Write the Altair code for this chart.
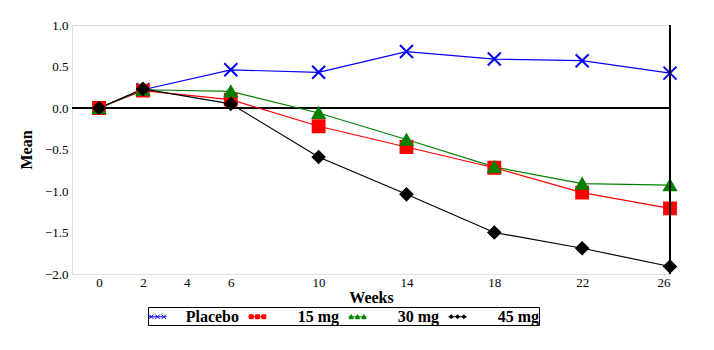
import altair as alt
import pandas as pd

weeks = [0, 2, 6, 10, 14, 18, 22, 26]
placebo = [0.00, 0.22, 0.46, 0.43, 0.68, 0.59, 0.57, 0.42]
mg15 = [0.00, 0.21, 0.10, -0.22, -0.47, -0.72, -1.02, -1.21]
mg30 = [0.00, 0.22, 0.20, -0.06, -0.38, -0.71, -0.91, -0.93]
mg45 = [0.00, 0.23, 0.05, -0.59, -1.04, -1.50, -1.69, -1.91]
series = ["Placebo", "15 mg", "30 mg", "45 mg"]
colors = ["#0000ff", "#ff0000", "#008000", "#000000"]
x_ticks = [0, 2, 4, 6, 10, 14, 18, 22, 26]
y_ticks = [-2.0, -1.5, -1.0, -0.5, 0.0, 0.5, 1.0]

rows = []
for k, (name, vals) in enumerate(zip(series, [placebo, mg15, mg30, mg45])):
    for w, v in zip(weeks, vals):
        rows.append({"week": w, "value": v, "series": name, "idx": k})
df = pd.DataFrame(rows)

serif = "Liberation Serif"
xpath = "M-1.1,-1.1L1.1,1.1M-1.1,1.1L1.1,-1.1"
color_scale = alt.Scale(domain=series, range=colors)
shape_scale = alt.Scale(domain=series, range=[xpath, "square", "triangle-up", "diamond"])

# legend symbols: a short line with three small markers
leg_paths = [
    "M-1,0L1,0M-0.95,-0.25L-0.45,0.25M-0.95,0.25L-0.45,-0.25M-0.25,-0.25L0.25,0.25M-0.25,0.25L0.25,-0.25M0.45,-0.25L0.95,0.25M0.45,0.25L0.95,-0.25",
    "M-1,0L1,0M-0.92,-0.22H-0.48V0.22H-0.92ZM-0.22,-0.22H0.22V0.22H-0.22ZM0.48,-0.22H0.92V0.22H0.48Z",
    "M-1,0L1,0M-0.95,0.22L-0.7,-0.24L-0.45,0.22ZM-0.25,0.22L0,-0.24L0.25,0.22ZM0.45,0.22L0.7,-0.24L0.95,0.22Z",
    "M-1,0L1,0M-0.92,0L-0.7,-0.22L-0.48,0L-0.7,0.22ZM-0.22,0L0,-0.22L0.22,0L0,0.22ZM0.48,0L0.7,-0.22L0.92,0L0.7,0.22Z",
]
leg_shape_scale = alt.Scale(domain=series, range=leg_paths)

legend = alt.Legend(
    title=None,
    orient="none",
    legendX=76,
    legendY=282,
    direction="horizontal",
    columns=4,
    gridAlign="all",
    columnPadding=7,
    labelOffset=72,
    labelAlign="right",
    labelFont=serif,
    labelFontSize=16,
    labelFontWeight="bold",
    labelColor="black",
    labelLimit=200,
    symbolSize=324,
    symbolStrokeWidth=1.0,
    symbolOpacity=1,
    strokeColor="black",
    fillColor="white",
    padding=0,
)

x_enc = alt.X(
    "week:Q",
    scale=alt.Scale(domain=[-1.23, 26], nice=False, zero=False),
    axis=alt.Axis(
        values=x_ticks, title="Weeks", grid=False, ticks=False, domain=False,
        labelFont=serif, labelFontSize=13, labelColor="black", labelPadding=2,
        titleFont=serif, titleFontSize=16, titleFontWeight="bold", titleColor="black",
        titlePadding=0,
    ),
)
y_enc = alt.Y(
    "value:Q",
    scale=alt.Scale(domain=[-2, 1], nice=False, zero=False),
    axis=alt.Axis(
        values=y_ticks, format=".1f", title="Mean", grid=False, ticks=False, domain=False,
        labelFont=serif, labelFontSize=13, labelColor="black", labelPadding=4,
        titleFont=serif, titleFontSize=16, titleFontWeight="bold", titleColor="black",
        titlePadding=10,
    ),
)

base = alt.Chart(df)

zero_line = base.mark_rule(color="black", strokeWidth=1).encode(y=alt.datum(0))
right_line = base.mark_rule(color="black", strokeWidth=2).encode(x=alt.datum(26))

lines = base.mark_line(strokeWidth=1.2).encode(
    x=x_enc,
    y=y_enc,
    color=alt.Color("series:N", scale=color_scale, legend=None),
    detail="series:N",
    order="week:Q",
)

points = base.mark_point(filled=True, size=140, strokeWidth=2, opacity=1).encode(
    x=x_enc,
    y=y_enc,
    color=alt.Color("series:N", scale=color_scale, legend=None),
    stroke=alt.Stroke("series:N", scale=color_scale, legend=None),
    shape=alt.Shape("series:N", scale=shape_scale, legend=None),
    order="idx:Q",
)

legend_layer = base.transform_filter("datum.week < -100").mark_point(
    filled=True, strokeWidth=1.0, opacity=1
).encode(
    x=x_enc,
    y=y_enc,
    color=alt.Color("series:N", scale=color_scale, legend=legend),
    stroke=alt.Stroke("series:N", scale=color_scale, legend=legend),
    shape=alt.Shape("series:N", scale=leg_shape_scale, legend=legend),
)

chart = (
    alt.layer(zero_line, lines, points, right_line, legend_layer)
    .resolve_scale(color="independent", stroke="independent", shape="independent")
    .properties(
        width=598,
        height=249,
        autosize=alt.AutoSizeParams(type="none"),
        padding={"left": 72, "top": 25, "right": 44, "bottom": 76},
    )
    .configure_view(stroke="black", strokeWidth=1)
    .configure(background="white")
)

chart.save("out.html", embed_options={"renderer": "svg", "actions": False})
